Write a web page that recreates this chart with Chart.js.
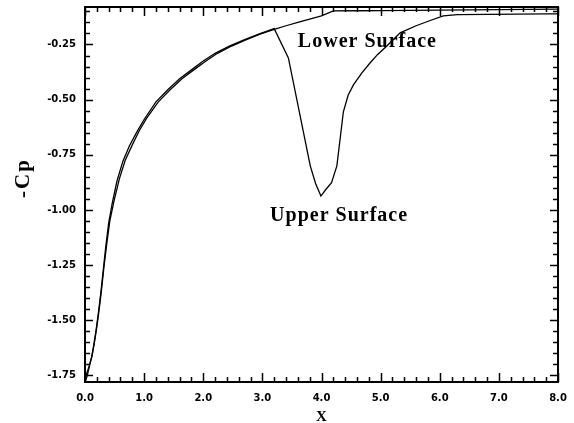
<!DOCTYPE html>
<html>
<head>
<meta charset="utf-8">
<title>Pressure coefficient</title>
<script src="https://cdn.jsdelivr.net/npm/chart.js"></script>
<style>
  html, body { margin: 0; padding: 0; background: #fff; }
  #wrap { width: 574px; height: 423px; position: relative; }
</style>
</head>
<body>
<div id="wrap"><canvas id="grafica"></canvas></div>
<script>
// upper surface: follows the leading edge, then dips around x = 4
var upperX  = [0.00, 0.03, 0.07, 0.11, 0.15, 0.19, 0.23, 0.27, 0.31, 0.35, 0.40, 0.46, 0.54, 0.64, 0.75, 0.88,
               1.00, 1.20, 1.40, 1.60, 1.80, 2.00, 2.20, 2.45, 2.70, 2.95, 3.20, 3.44, 3.81, 3.90, 3.99, 4.08,
               4.17, 4.26, 4.37, 4.45, 4.54, 4.68, 4.82, 4.95, 5.10, 5.33, 5.60, 5.85, 6.06, 6.30, 6.80, 7.30,
               7.80, 8.00];
var upperCp = [-1.78, -1.74, -1.71, -1.67, -1.61, -1.54, -1.46, -1.37, -1.27, -1.17, -1.06, -0.97, -0.87, -0.78, -0.71, -0.645,
               -0.59, -0.51, -0.455, -0.405, -0.365, -0.325, -0.29, -0.256, -0.228, -0.202, -0.178, -0.311, -0.80, -0.88, -0.937, -0.905,
               -0.876, -0.80, -0.555, -0.48, -0.433, -0.38, -0.334, -0.295, -0.258, -0.197, -0.165, -0.14, -0.12, -0.115, -0.113, -0.112,
               -0.111, -0.111];

// lower surface: smooth recovery all the way to x = 8
var lowerX  = [0.00, 0.04, 0.08, 0.12, 0.16, 0.20, 0.24, 0.28, 0.32, 0.37, 0.42, 0.49, 0.58, 0.68, 0.80, 0.92,
               1.04, 1.24, 1.44, 1.64, 1.84, 2.04, 2.24, 2.48, 2.72, 2.96, 3.20, 3.40, 3.60, 3.80, 4.00, 4.20,
               4.60, 5.00, 5.50, 6.00, 6.50, 7.00, 7.50, 8.00];
var lowerCp = [-1.78, -1.75, -1.70, -1.66, -1.60, -1.53, -1.45, -1.36, -1.26, -1.15, -1.05, -0.96, -0.86, -0.775, -0.705, -0.64,
               -0.585, -0.51, -0.455, -0.405, -0.365, -0.326, -0.29, -0.257, -0.229, -0.203, -0.181, -0.165, -0.15, -0.135, -0.12, -0.098,
               -0.097, -0.096, -0.095, -0.094, -0.093, -0.092, -0.091, -0.09];

// labelled (major) ticks
var xMajor = [0, 1, 2, 3, 4, 5, 6, 7, 8];
var yMajor = [-1.75, -1.50, -1.25, -1.00, -0.75, -0.50, -0.25];

var noteText = ["Lower Surface", "Upper Surface"];

function toPoints(xs, ys) {
	return xs.map(function(x, i) { return { x: x, y: ys[i] }; });
}

function isMajor(v, list) {
	return list.some(function(m) { return Math.abs(m - v) < 1e-6; });
}

// tick marks drawn inside the frame on all four sides, plus the titles and notes
var frameTicks = {
	id: 'frameTicks',
	afterDatasetsDraw: function(chart) {
		var ctx = chart.ctx;
		var a = chart.chartArea;
		var xs = chart.scales.x;
		var ys = chart.scales.y;

		ctx.save();
		ctx.strokeStyle = '#000';
		ctx.lineWidth = 1.5;
		ctx.beginPath();
		xs.ticks.forEach(function(t) {
			var px = Math.round(xs.getPixelForValue(t.value)) + 0.5;
			var len = isMajor(t.value, xMajor) ? 9 : 5;
			ctx.moveTo(px, a.bottom); ctx.lineTo(px, a.bottom - len);
			ctx.moveTo(px, a.top); ctx.lineTo(px, a.top + len);
		});
		ys.ticks.forEach(function(t) {
			var py = Math.round(ys.getPixelForValue(t.value)) + 0.5;
			var len = isMajor(t.value, yMajor) ? 8 : 5;
			ctx.moveTo(a.left, py); ctx.lineTo(a.left + len, py);
			ctx.moveTo(a.right, py); ctx.lineTo(a.right - len, py);
		});
		ctx.stroke();

		ctx.lineWidth = 2;
		ctx.strokeRect(a.left, a.top, a.right - a.left, a.bottom - a.top);

		// curve notes
		ctx.fillStyle = '#000';
		ctx.font = 'bold 20px "Liberation Serif"';
		ctx.textAlign = 'left';
		ctx.textBaseline = 'alphabetic';
		ctx.letterSpacing = '1px';
		ctx.fillText(noteText[0], xs.getPixelForValue(3.6), ys.getPixelForValue(-0.262));
		ctx.fillText(noteText[1], xs.getPixelForValue(3.13), ys.getPixelForValue(-1.05));

		// axis titles
		ctx.textAlign = 'center';
		ctx.textBaseline = 'middle';
		ctx.font = 'bold 15px "Liberation Serif"';
		ctx.letterSpacing = '0px';
		ctx.fillText('X', (a.left + a.right) / 2, 417);

		ctx.font = 'bold 21px "Liberation Serif"';
		ctx.letterSpacing = '2px';
		ctx.translate(24, 178);
		ctx.rotate(-Math.PI / 2);
		ctx.fillText('-Cp', 0, 0);
		ctx.restore();
	}
};

var tickFont = { family: 'DejaVu Sans', weight: 'bold', size: 10 };

var chart = new Chart(document.getElementById('grafica'), {
	type: 'line',
	data: {
		datasets: [{
			label: 'Upper Surface',
			data: toPoints(upperX, upperCp),
			borderColor: '#000',
			borderWidth: 1.3,
			pointRadius: 0,
			tension: 0,
			fill: false
		}, {
			label: 'Lower Surface',
			data: toPoints(lowerX, lowerCp),
			borderColor: '#000',
			borderWidth: 1.3,
			pointRadius: 0,
			tension: 0,
			fill: false
		}]
	},
	options: {
		responsive: true,
		maintainAspectRatio: false,
		animation: false,
		layout: { padding: { left: 0, top: 7, right: 16, bottom: 0 } },
		plugins: {
			legend: { display: false },
			tooltip: { enabled: false }
		},
		scales: {
			x: {
				type: 'linear',
				min: 0,
				max: 8,
				afterBuildTicks: function(scale) {
					var t = [];
					for (var i = 0; i <= 40; i++) t.push({ value: i * 0.2 });
					scale.ticks = t;
				},
				afterFit: function(scale) {
					scale.height = 41;
					scale.paddingLeft = 0;
					scale.paddingRight = 0;
				},
				grid: { display: false, drawTicks: false },
				border: { display: false },
				ticks: {
					autoSkip: false,
					maxRotation: 0,
					padding: 10,
					color: '#000',
					font: tickFont,
					callback: function(v) { return isMajor(v, xMajor) ? v.toFixed(1) : ''; }
				}
			},
			y: {
				type: 'linear',
				min: -1.78,
				max: -0.08,
				afterBuildTicks: function(scale) {
					var t = [];
					for (var i = 0; i <= 33; i++) t.push({ value: -1.75 + i * 0.05 });
					scale.ticks = t;
				},
				afterFit: function(scale) {
					scale.width = 85;
					scale.paddingTop = 0;
					scale.paddingBottom = 0;
				},
				grid: { display: false, drawTicks: false },
				border: { display: false },
				ticks: {
					autoSkip: false,
					padding: 9,
					color: '#000',
					font: tickFont,
					callback: function(v) { return isMajor(v, yMajor) ? v.toFixed(2) : ''; }
				}
			}
		}
	},
	plugins: [frameTicks]
});
</script>
</body>
</html>
